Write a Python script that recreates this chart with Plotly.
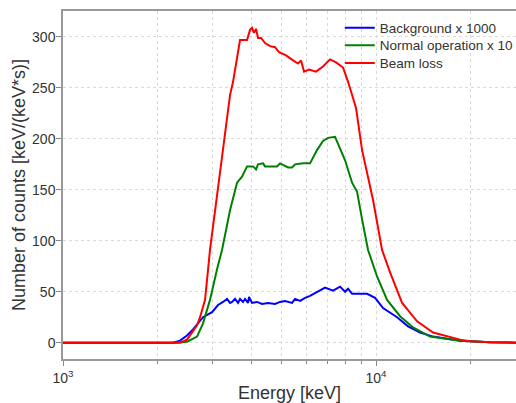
import plotly.graph_objects as go

# Beam loss
beam_E = [1000, 2365, 2490, 2602, 2680, 2740, 2843, 2948, 3059, 3221, 3367, 3416, 3493, 3597,
          3677, 3871, 3957, 4016, 4075, 4136, 4198, 4292, 4420, 4585, 4757, 4900, 5158, 5431,
          5634, 5760, 5888, 6108, 6429, 6769, 7128, 7450, 7846, 8140, 8633, 9023, 9428, 9781,
          10452, 11085, 12108, 13521, 15209, 16861, 18547, 20000, 23128, 28000]
beam_V = [0, 0, 3, 12, 17, 25, 42, 91, 130, 186, 228, 243, 256, 279,
          297, 297, 307, 309, 304, 308, 299, 299, 294, 291, 290, 285, 282, 277,
          274, 277, 266, 268, 266, 271, 278, 275, 270, 256, 230, 189, 163, 140,
          91, 69, 39, 21, 10, 6, 3, 1.5, 0.5, 0]

# Normal operation x 10
norm_E = [1000, 2279, 2490, 2680, 2801, 2948, 3105, 3221, 3416, 3597, 3731, 3871, 4046, 4136,
          4198, 4355, 4420, 4828, 4936, 5235, 5391, 5511, 5845, 6153, 6477, 6769, 7023, 7396,
          7962, 8383, 8697, 8891, 9023, 9428, 10074, 10843, 11931, 13128, 14877, 18547, 23128, 28000]
norm_V = [0, 0, 1, 6, 19, 42, 72, 91, 130, 157, 163, 173, 173, 170,
          175, 176, 173, 173, 176, 172, 172, 175, 176, 176, 189, 198, 201, 202,
          179, 157, 148, 130, 121, 91, 65, 42, 26, 15, 6, 2, 0.5, 0]

# Background x 1000
bg_E = [1000, 2245, 2365, 2490, 2602, 2680, 2801, 2992, 3128, 3245, 3342, 3416, 3467, 3544,
        3624, 3677, 3759, 3814, 3900, 3928, 4016, 4167, 4324, 4519, 4757, 4936, 5120, 5391,
        5511, 5718, 5932, 6153, 6477, 6870, 7287, 7674, 7962, 8140, 8383, 9359, 9926, 10529,
        11670, 12653, 13822, 15209, 18547, 23128, 28000]
bg_V = [0, 0, 2, 7, 13, 18, 25, 30, 37, 40, 43, 39, 40, 43,
        39, 43, 40, 43, 39, 45, 39, 40, 38, 39, 38, 40, 41, 39,
        43, 41, 44, 46, 50, 54, 51, 55, 50, 53, 48, 48, 44, 34,
        25, 16, 10, 6, 2, 0.5, 0]

series = [
    ("Background x 1000", bg_E, bg_V, "#0000ff", "legend", 0.951),
    ("Normal operation x 10", norm_E, norm_V, "#008000", "legend2", 0.901),
    ("Beam loss", beam_E, beam_V, "#ff0000", "legend3", 0.850),
]

x_major = [1000, 10000]
x_major_text = ["10<sup>3</sup>", "10<sup>4</sup>"]
x_minor = [2000, 3000, 4000, 5000, 6000, 7000, 8000, 9000, 20000]
y_ticks = [0, 50, 100, 150, 200, 250, 300]

fig = go.Figure()
legend_layouts = {}
for name, E, V, c, lg, ly in series:
    fig.add_trace(go.Scatter(x=E, y=V, mode="lines", name=name, legend=lg,
                             line=dict(color=c, width=2)))
    legend_layouts[lg] = dict(x=0.611, y=ly, xanchor="left", yanchor="middle",
                              bgcolor="rgba(0,0,0,0)", borderwidth=0,
                              font=dict(size=13.5))

# white legend backdrop (hides gridlines behind the legend, like the original)
fig.add_shape(type="rect", xref="paper", yref="paper",
              x0=0.612, x1=1.0, y0=0.828, y1=0.984,
              fillcolor="white", line=dict(width=0), layer="between")

grid_col = "#d9d9d9"
fig.update_layout(
    width=516, height=403,
    margin=dict(l=63, r=0, t=11, b=44, autoexpand=False),
    paper_bgcolor="white", plot_bgcolor="white",
    font=dict(family="Liberation Sans, Arial, sans-serif", color="#333333", size=14),
    showlegend=True,
    **legend_layouts,
)
fig.update_xaxes(
    type="log", range=[3, 4.447], automargin=False,
    tickvals=x_major, ticktext=x_major_text,
    showgrid=True, gridcolor=grid_col, griddash="dot", gridwidth=1,
    minor=dict(tickvals=x_minor, showgrid=True, gridcolor=grid_col, griddash="dot",
               ticks="outside", ticklen=3, tickcolor="#888888"),
    showline=True, linecolor="#999999", linewidth=1.5, mirror=True,
    ticks="outside", ticklen=5, tickcolor="#888888",
    zeroline=False,
    title=dict(text="Energy [keV]", font=dict(size=18), standoff=11),
)
fig.update_yaxes(
    range=[-16, 325.5], tickvals=y_ticks, automargin=False,
    showgrid=True, gridcolor=grid_col, griddash="dot", gridwidth=1,
    showline=True, linecolor="#999999", linewidth=1.5, mirror=False,
    ticks="outside", ticklen=5, tickcolor="#888888", ticklabelstandoff=-2,
    zeroline=False,
    title=dict(text="Number of counts [keV/(keV*s)]", font=dict(size=18), standoff=2),
)

fig.write_html("out.html", config={"displayModeBar": False},
               post_script="document.body.style.margin='0';")
